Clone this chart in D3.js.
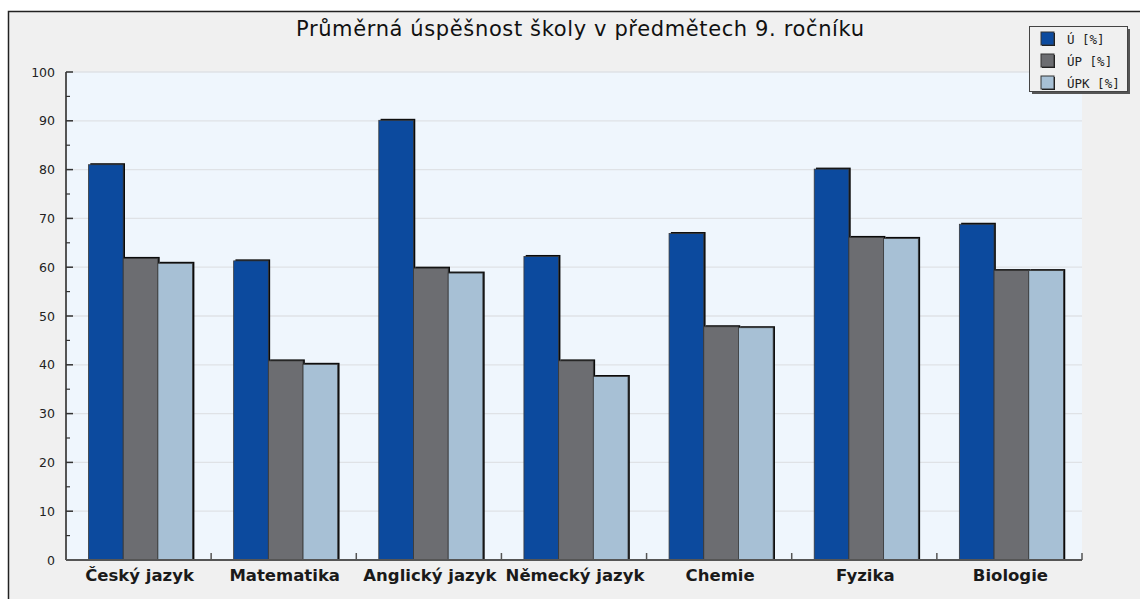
<!DOCTYPE html>
<html>
<head>
<meta charset="utf-8">
<script src="https://cdn.jsdelivr.net/npm/d3@7"></script>
<style>
  body { margin: 0; background: #fff; }
  svg { display: block; }
</style>
</head>
<body>
<svg width="1140" height="599"></svg>
<script>
const subjects = ['Český jazyk', 'Matematika', 'Anglický jazyk', 'Německý jazyk', 'Chemie', 'Fyzika', 'Biologie'];
const seriesNames = ['Ú [%]', 'ÚP [%]', 'ÚPK [%]'];
const valuesU = [81.0, 61.3, 90.1, 62.2, 66.9, 80.1, 68.8];
const valuesUP = [61.8, 40.8, 59.8, 40.8, 47.8, 66.1, 59.3];
const valuesUPK = [60.8, 40.1, 58.8, 37.6, 47.6, 65.9, 59.3];
const yTicks = [0, 10, 20, 30, 40, 50, 60, 70, 80, 90, 100];
const colors = ['#0c4a9e', '#6c6d71', '#a7c0d5'];

const series = [valuesU, valuesUP, valuesUPK];

const svg = d3.select('svg');
const width = +svg.attr('width');
const height = +svg.attr('height');

// outer panel
svg.append('rect')
  .attr('x', 8.5).attr('y', 11.5)
  .attr('width', 1200).attr('height', 700)
  .attr('fill', '#f0f0f0')
  .attr('stroke', '#222')
  .attr('stroke-width', 1.5);

const plotLeft = 66, plotTop = 72, plotRight = 1082, plotBottom = 560;

const x = d3.scaleBand()
  .domain(subjects)
  .range([plotLeft, plotRight]);

const y = d3.scaleLinear()
  .domain([0, 100])
  .range([plotBottom, plotTop]);

// plot background
svg.append('rect')
  .attr('x', plotLeft).attr('y', plotTop)
  .attr('width', plotRight - plotLeft).attr('height', plotBottom - plotTop)
  .attr('fill', '#eff6fd');

// gridlines
svg.append('g')
  .selectAll('line')
  .data(yTicks.filter(d => d > 0))
  .join('line')
  .attr('x1', plotLeft).attr('x2', plotRight)
  .attr('y1', d => y(d)).attr('y2', d => y(d))
  .attr('stroke', '#dfe2e6')
  .attr('stroke-width', 1.3);

// bars
const barOffset = 22.5;
const barW = 34.7;

const groups = svg.append('g')
  .selectAll('g')
  .data(subjects)
  .join('g')
  .attr('transform', d => `translate(${x(d) + barOffset},0)`);

series.forEach((vals, si) => {
  // shadow
  groups.append('rect')
    .attr('x', si * barW + 1.8)
    .attr('y', (d, i) => y(vals[i]) - 1.5)
    .attr('width', barW)
    .attr('height', (d, i) => plotBottom - y(vals[i]) + 1.5)
    .attr('fill', '#0a0a0a');
  groups.append('rect')
    .attr('x', si * barW)
    .attr('y', (d, i) => y(vals[i]))
    .attr('width', barW)
    .attr('height', (d, i) => plotBottom - y(vals[i]))
    .attr('fill', colors[si])
    .attr('stroke', '#3a3a3a')
    .attr('stroke-width', 0.8);
});

// y axis
const yAxis = svg.append('g');
yAxis.append('line')
  .attr('x1', plotLeft).attr('x2', plotLeft)
  .attr('y1', plotTop).attr('y2', plotBottom)
  .attr('stroke', '#555').attr('stroke-width', 2);

yAxis.selectAll('line.major')
  .data(yTicks)
  .join('line')
  .attr('class', 'major')
  .attr('x1', plotLeft).attr('x2', plotLeft + 7)
  .attr('y1', d => y(d)).attr('y2', d => y(d))
  .attr('stroke', '#333').attr('stroke-width', 1.5);

yAxis.selectAll('line.minor')
  .data(yTicks.slice(1).map(d => d - 5))
  .join('line')
  .attr('class', 'minor')
  .attr('x1', plotLeft).attr('x2', plotLeft + 4)
  .attr('y1', d => y(d)).attr('y2', d => y(d))
  .attr('stroke', '#333').attr('stroke-width', 1.2);

yAxis.selectAll('text')
  .data(yTicks)
  .join('text')
  .attr('x', 55)
  .attr('y', d => y(d) + 4.5)
  .attr('text-anchor', 'end')
  .attr('font-family', 'DejaVu Sans, Verdana, sans-serif')
  .attr('font-size', 12.5)
  .attr('fill', '#222')
  .text(d => d);

// x axis
const xAxis = svg.append('g');
xAxis.append('line')
  .attr('x1', plotLeft).attr('x2', plotRight)
  .attr('y1', plotBottom).attr('y2', plotBottom)
  .attr('stroke', '#555').attr('stroke-width', 2);

xAxis.selectAll('line.tick')
  .data(subjects.slice(1).map(d => x(d)).concat([plotRight]))
  .join('line')
  .attr('class', 'tick')
  .attr('x1', d => d).attr('x2', d => d)
  .attr('y1', plotBottom).attr('y2', plotBottom - 7)
  .attr('stroke', '#555').attr('stroke-width', 1.5);

xAxis.selectAll('text')
  .data(subjects)
  .join('text')
  .attr('x', d => x(d) + x.bandwidth() / 2 + 1)
  .attr('y', 581)
  .attr('text-anchor', 'middle')
  .attr('font-family', 'DejaVu Sans, Verdana, sans-serif')
  .attr('font-weight', 'bold')
  .attr('font-size', 16.5)
  .attr('fill', '#1a1a1a')
  .text(d => d);

// title
svg.append('text')
  .attr('x', 580)
  .attr('y', 36)
  .attr('text-anchor', 'middle')
  .attr('font-family', 'DejaVu Sans, Verdana, sans-serif')
  .attr('font-size', 21)
  .attr('textLength', 568)
  .attr('lengthAdjust', 'spacing')
  .attr('fill', '#111')
  .text('Průměrná úspěšnost školy v předmětech 9. ročníku');

// legend
const legend = svg.append('g').attr('transform', 'translate(1029,26)');
legend.append('rect')
  .attr('x', 3).attr('y', 3)
  .attr('width', 98).attr('height', 65)
  .attr('fill', '#555');
legend.append('rect')
  .attr('x', 0.5).attr('y', 0.5)
  .attr('width', 98).attr('height', 65)
  .attr('fill', '#f0f0f0')
  .attr('stroke', '#444');

const items = legend.selectAll('g')
  .data(seriesNames)
  .join('g')
  .attr('transform', (d, i) => `translate(12,${6 + i * 22})`);

items.append('rect')
  .attr('x', 1).attr('y', 1)
  .attr('width', 13).attr('height', 13)
  .attr('fill', '#111');
items.append('rect')
  .attr('x', 0).attr('y', 0)
  .attr('width', 13).attr('height', 13)
  .attr('fill', (d, i) => colors[i])
  .attr('stroke', '#333');

items.append('text')
  .attr('x', 26)
  .attr('y', 11.5)
  .attr('font-family', 'DejaVu Sans Mono, monospace')
  .attr('font-size', 12.5)
  .attr('fill', '#222')
  .text(d => d);
</script>
</body>
</html>
